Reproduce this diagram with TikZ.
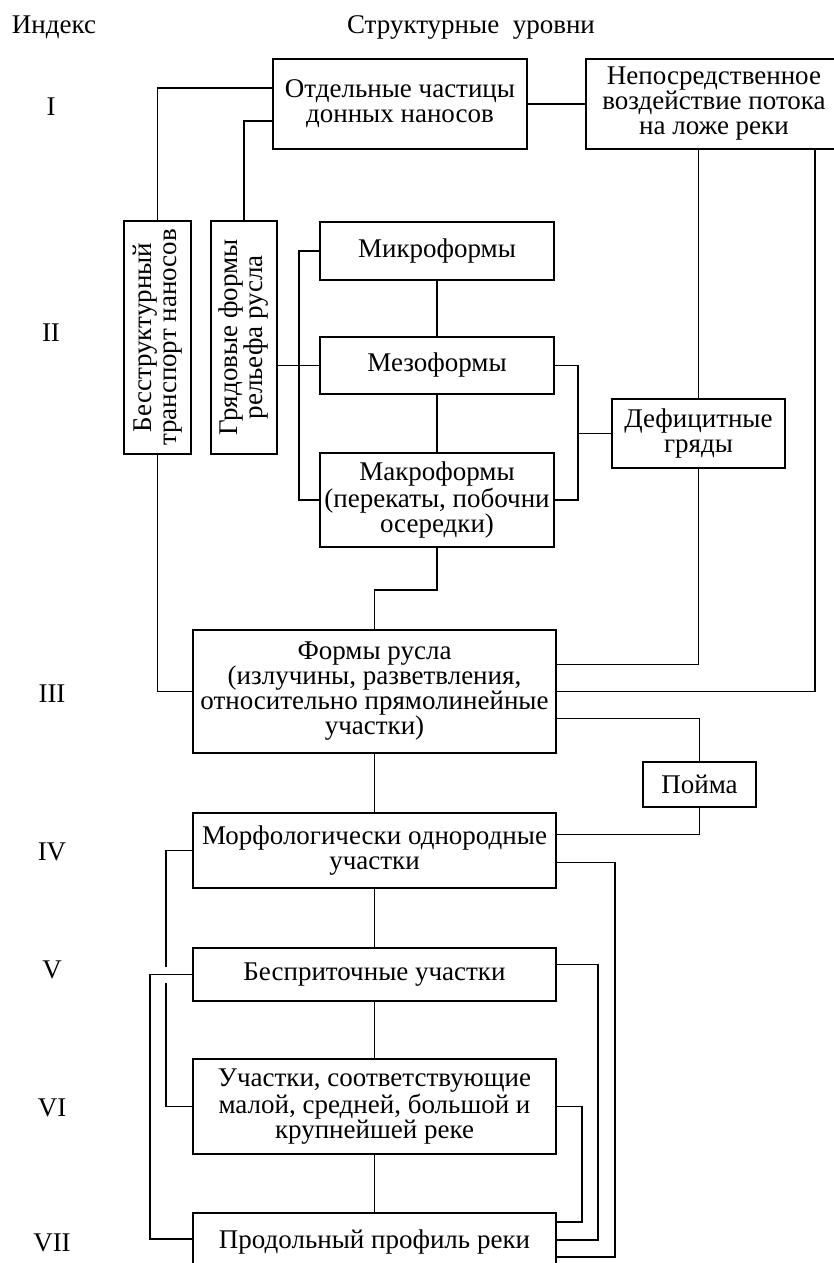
\documentclass[tikz,border=0pt]{standalone}
\usepackage{fontspec}
\setmainfont{Liberation Serif}
\usepackage{tikz}

\begin{document}
\begin{tikzpicture}[x = 1pt, y = -1pt, line width = 1.8pt,
        box/.style = {draw, align = center, inner sep = 0pt, font = \fontsize{27}{25}\selectfont},
        lbl/.style = {font = \fontsize{27}{25}\selectfont},
        gap/.style = {white, line width = 16pt}]
            \useasboundingbox (0, 0) rectangle (834, 1263);
            \node [lbl] (idx) at (54, 27) {Индекс};
            \node [lbl] (lvl) at (471, 27) {Структурные\ \ уровни};
            \node [lbl] (r1) at (51, 107) {I};
            \node [lbl] (r2) at (51, 333) {II};
            \node [lbl] (r3) at (52, 694) {III};
            \node [lbl] (r4) at (52, 852) {IV};
            \node [lbl] (r5) at (52, 970) {V};
            \node [lbl] (r6) at (52, 1108) {VI};
            \node [lbl] (r7) at (52, 1243) {VII};
            % boxes
            \node [box, minimum width = 254, minimum height = 90] (part) at (400, 104) {Отдельные частицы\\донных наносов};
            \node [box, minimum width = 256, minimum height = 90] (direct) at (714, 104) {Непосредственное\\воздействие потока\\на ложе реки};
            \node [box, rotate = 90, minimum width = 233, minimum height = 67] (bezstr) at (157.5, 337.5) {Бесструктурный\\транспорт наносов};
            \node [box, rotate = 90, minimum width = 233, minimum height = 66] (gryad) at (244, 337.5) {Грядовые формы\\рельефа русла};
            \node [box, minimum width = 234, minimum height = 58] (micro) at (437, 251) {Микроформы};
            \node [box, minimum width = 234, minimum height = 57] (meso) at (437, 365.5) {Мезоформы};
            \node [box, minimum width = 234, minimum height = 94] (macro) at (437, 500) {Макроформы\\(перекаты, побочни\\осередки)};
            \node [box, minimum width = 173, minimum height = 69] (defic) at (698.5, 433.5) {Дефицитные\\гряды};
            \node [box, minimum width = 363, minimum height = 123] (forms) at (374.5, 691.5) {Формы русла\\(излучины, разветвления,\\относительно прямолинейные\\участки)};
            \node [box, minimum width = 113, minimum height = 45] (poyma) at (699.5, 784.5) {Пойма};
            \node [box, minimum width = 363, minimum height = 75] (morpho) at (374.5, 850.5) {Морфологически однородные\\участки};
            \node [box, minimum width = 363, minimum height = 53] (bespr) at (374.5, 974.5) {Бесприточные участки};
            \node [box, minimum width = 363, minimum height = 95] (uchastki) at (374.5, 1106.5) {Участки, соответствующие\\малой, средней, большой и\\крупнейшей реке};
            \node [box, minimum width = 363, minimum height = 58] (profil) at (374.5, 1242) {Продольный профиль реки};
            % upper links (rotated boxes: east is top, west is bottom, south is right)
            \draw (bezstr.east) |- ([yshift = 16pt] part.west);
            \draw (gryad.east) |- ([yshift = -17pt] part.west);
            \draw (part.east) -- (direct.west);
            \draw (defic.north |- direct.south) -- (defic.north);
            \draw (forms.east) -| ([xshift = 101pt] direct.south);
            \draw (micro.west) -- ++(-20, 0) |- (macro.west);
            \draw (meso.west) -- (meso.west -| gryad.south);
            \draw (meso.east) -- ++(23, 0) coordinate (mbr) |- (macro.east);
            \draw (defic.west) -- (defic.west -| mbr);
            \draw (micro) -- (meso) -- (macro);
            \draw (macro.south) -- ++(0, 42) -| (forms.north);
            \draw (defic.south) |- ([yshift = 27pt] forms.east);
            \draw (bezstr.west) |- (forms.west);
            \draw ([yshift = -27pt] forms.east) -| (poyma.north);
            \draw (poyma.south) |- ([yshift = 16pt] morpho.east);
            % lower links
            \draw (forms) -- (morpho) -- (bespr) -- (uchastki) -- (profil);
            \draw ([yshift = -12pt] morpho.east) -- ++(58, 0) |- ([yshift = -15pt] profil.east);
            \draw (morpho.west) -- ++(-26, 0) |- (uchastki.west);
            \draw [gap] ([xshift = -23pt] bespr.west) -- ++(-6, 0);
            \draw (bespr.west) -- ++(-42, 0) |- ([yshift = 3pt] profil.west);
            \draw ([yshift = 10pt] bespr.east) -- ++(41, 0) |- ([yshift = 2pt] profil.east);
            \draw (uchastki.east) -- ++(25, 0) |- ([yshift = 20pt] profil.east);
        \end{tikzpicture}
\end{document}
